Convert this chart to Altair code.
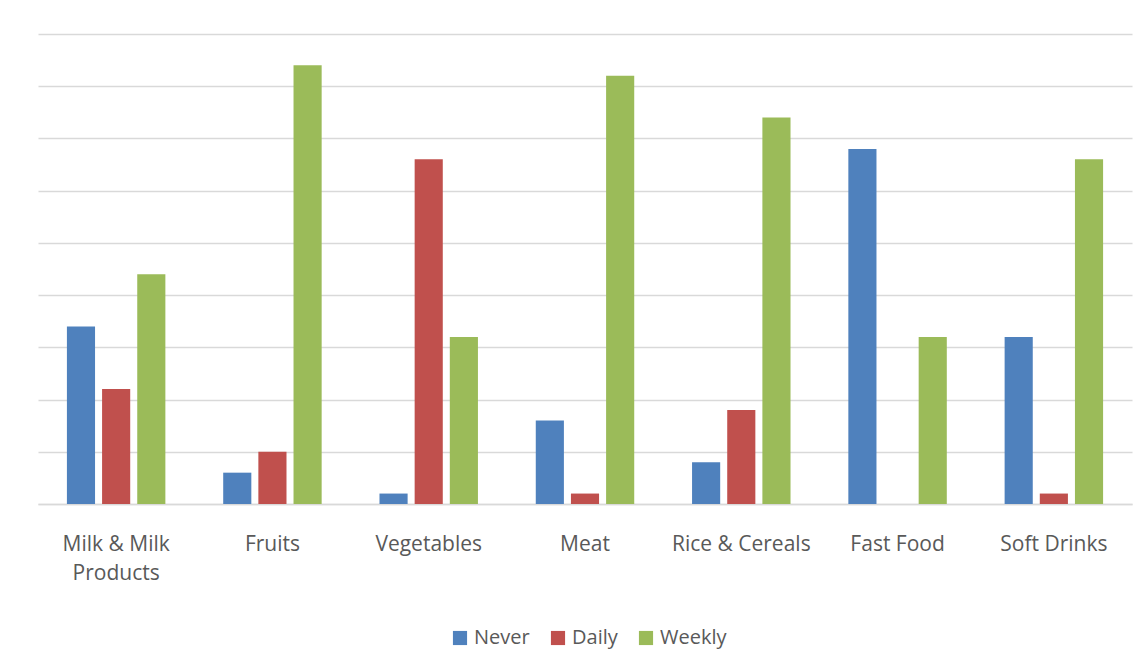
import altair as alt
import pandas as pd

categories = ["Milk & Milk Products", "Fruits", "Vegetables", "Meat",
              "Rice & Cereals", "Fast Food", "Soft Drinks"]
series = ["Never", "Daily", "Weekly"]
never = [34, 6, 2, 16, 8, 68, 32]
daily = [22, 10, 66, 2, 18, 0, 2]
weekly = [44, 84, 32, 82, 74, 32, 66]
colors = ["#4F81BD", "#C0504D", "#9BBB59"]
grid_values = [0, 10, 20, 30, 40, 50, 60, 70, 80, 90]

rows = []
for name, vals in zip(series, [never, daily, weekly]):
    for c, v in zip(categories, vals):
        rows.append({"Category": c, "Series": name, "Value": v})
df = pd.DataFrame(rows)

FONT = "Open Sans"
TXT = "#595959"

chart = alt.Chart(df).mark_bar().encode(
    x=alt.X("Category:N", sort=categories, title=None,
            scale=alt.Scale(paddingInner=0.37, paddingOuter=0.185),
            axis=alt.Axis(labelAngle=0, ticks=False, domain=True, domainColor="#d9d9d9",
                          domainWidth=1.5, labelFontSize=21, labelColor=TXT, labelFont=FONT,
                          labelPadding=29, labelLineHeight=29, labelBaseline="top",
                          labelExpr="datum.value == 'Milk & Milk Products' ? ['Milk & Milk', 'Products'] : datum.value")),
    xOffset=alt.XOffset("Series:N", sort=series,
                        scale=alt.Scale(paddingInner=0.2, paddingOuter=0)),
    y=alt.Y("Value:Q", title=None, scale=alt.Scale(domain=[0, 90], nice=False),
            axis=alt.Axis(labels=False, ticks=False, domain=False,
                          values=grid_values,
                          grid=True, gridColor="#d9d9d9", gridWidth=1.5)),
    color=alt.Color("Series:N", sort=series,
                    scale=alt.Scale(domain=series, range=colors),
                    legend=alt.Legend(title=None, orient="none", direction="horizontal",
                                      legendX=412, legendY=594,
                                      symbolType="square", symbolSize=200, symbolStrokeWidth=0,
                                      labelFontSize=20, labelColor=TXT, labelFont=FONT,
                                      labelOffset=4, columnPadding=18, symbolOpacity=1)),
).properties(
    width=1094, height=470,
    padding={"left": 30, "top": 26, "right": 5, "bottom": 5},
).configure(background="white").configure_view(strokeWidth=0)

chart.save("out.html", embed_options={"renderer": "svg", "actions": False})
